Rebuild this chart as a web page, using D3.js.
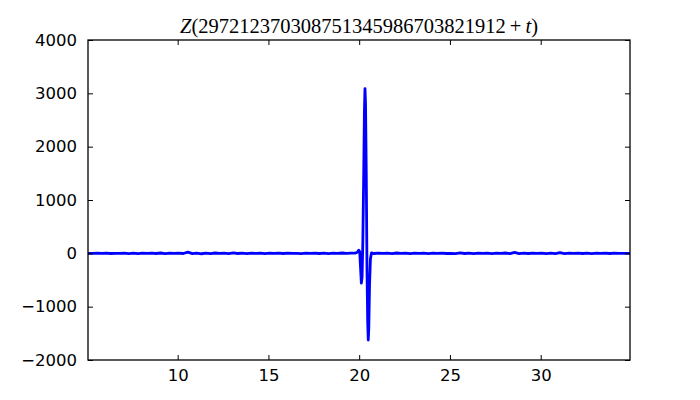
<!DOCTYPE html>
<html><head><meta charset="utf-8">
<script src="https://cdn.jsdelivr.net/npm/d3@7"></script>
<style>body{margin:0;background:#fff}svg{display:block}</style>
</head><body>
<svg id="c" width="700" height="400"></svg>
<script>
const leftT = [5.06,5.31,5.56,5.81,6.06,6.31,6.56,6.81,7.06,7.31,7.56,7.81,8.06,8.31,8.56,8.81,9.06,9.31,9.56,9.81,10.06,10.31,10.56,10.81,11.06,11.31,11.56,11.81,12.06,12.31,12.56,12.81,13.06,13.31,13.56,13.81,14.06,14.31,14.56,14.81,15.06,15.31,15.56,15.81,16.06,16.31,16.56,16.81,17.06,17.31,17.56,17.81,18.06,18.31,18.56,18.81,19.06,19.31,19.56];
const leftZ = [1,-2,2,-1,4,-3,1,-2,5,-4,2,-6,3,-1,4,-3,6,-5,2,-2,4,-3,22,-6,5,-8,3,-4,6,-2,3,-5,7,-3,2,-4,5,-2,3,-6,4,-1,2,-3,5,-2,1,-4,3,-2,4,-3,2,-5,3,-2,6,-1,4];
const peakT = [19.80,19.90,19.98,20.03,20.08,20.12,20.16,20.20,20.25,20.29,20.32,20.35,20.39,20.43,20.47,20.50,20.53,20.57,20.62,20.68,20.75];
const peakZ = [5,20,60,30,-300,-560,-450,200,1500,2700,3090,2800,1500,-300,-1300,-1625,-1400,-600,-100,10,0];
const rightT = [20.81,21.06,21.31,21.56,21.81,22.06,22.31,22.56,22.81,23.06,23.31,23.56,23.81,24.06,24.31,24.56,24.81,25.06,25.31,25.56,25.81,26.06,26.31,26.56,26.81,27.06,27.31,27.56,27.81,28.06,28.31,28.56,28.81,29.06,29.31,29.56,29.81,30.06,30.31,30.56,30.81,31.06,31.31,31.56,31.81,32.06,32.31,32.56,32.81,33.06,33.31,33.56,33.81,34.06,34.31,34.56,34.81,34.92];
const rightZ = [-3,4,-2,2,-5,6,-1,3,-4,2,-2,4,-6,3,-2,5,-3,1,-4,7,-3,4,-5,2,-2,4,-4,3,-2,6,-5,18,-7,3,-3,5,-2,4,-4,2,-6,14,-4,3,-2,4,-3,2,-5,3,-1,4,-3,2,-2,1,-1,0];
const xTicks = [10,15,20,25,30];
const yTicks = [-2000,-1000,0,1000,2000,3000,4000];
const xDomain = [5.06,34.92];
const yDomain = [-2000,4000];

const tAll = leftT.concat(peakT, rightT);
const zAll = leftZ.concat(peakZ, rightZ);
const data = tAll.map((t,i)=>({t, z:zAll[i]}));

const m = {l:88, r:630, t:40, b:360};
const svg = d3.select('#c');
const x = d3.scaleLinear().domain(xDomain).range([m.l, m.r]);
const y = d3.scaleLinear().domain(yDomain).range([m.b, m.t]);

svg.append('defs').append('clipPath').attr('id','clip')
  .append('rect').attr('x',m.l).attr('y',m.t).attr('width',m.r-m.l).attr('height',m.b-m.t);

svg.append('path').datum(data)
  .attr('clip-path','url(#clip)')
  .attr('fill','none').attr('stroke','#0000ff').attr('stroke-width',2.8)
  .attr('stroke-linejoin','round')
  .attr('d', d3.line().x(d=>x(d.t)).y(d=>y(d.z)));

const fmt = v => (v<0 ? '\u2212' + Math.abs(v) : String(v));
const font = "'DejaVu Sans', sans-serif";
const tl = 5;

const xb = svg.append('g').attr('transform',`translate(0,${m.b})`)
  .call(d3.axisBottom(x).tickValues(xTicks).tickSize(-tl).tickPadding(9).tickFormat(fmt));
const xt = svg.append('g').attr('transform',`translate(0,${m.t})`)
  .call(d3.axisTop(x).tickValues(xTicks).tickSize(-tl).tickFormat(''));
const yl = svg.append('g').attr('transform',`translate(${m.l},0)`)
  .call(d3.axisLeft(y).tickValues(yTicks).tickSize(-tl).tickPadding(11).tickFormat(fmt));
const yr = svg.append('g').attr('transform',`translate(${m.r},0)`)
  .call(d3.axisRight(y).tickValues(yTicks).tickSize(-tl).tickFormat(''));

[xb,xt,yl,yr].forEach(g=>{
  g.select('.domain').remove();
  g.selectAll('line').attr('stroke','#000').attr('stroke-width',1);
  g.selectAll('text').attr('fill','#000').style('font-family',font).style('font-size','16.5px');
});

svg.append('rect').attr('x',m.l).attr('y',m.t).attr('width',m.r-m.l).attr('height',m.b-m.t)
  .attr('fill','none').attr('stroke','#000').attr('stroke-width',1.3);

const title = svg.append('text').attr('x',(m.l+m.r)/2).attr('y',33)
  .attr('text-anchor','middle').style('font-family',"'Liberation Serif', serif").style('font-size','20.5px').attr('fill','#000');
title.append('tspan').style('font-style','italic').text('Z');
title.append('tspan').text('(297212370308751345986703821912');
title.append('tspan').text('\u2009+\u2009');
title.append('tspan').style('font-style','italic').text('t');
title.append('tspan').text(')');
</script>
</body></html>
